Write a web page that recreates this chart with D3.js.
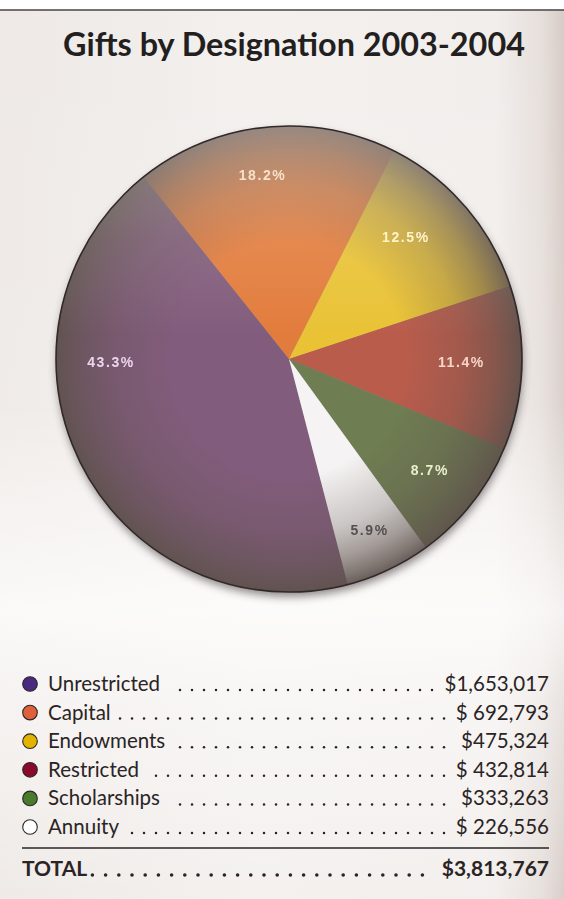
<!DOCTYPE html>
<html>
<head>
<meta charset="utf-8">
<script src="https://cdn.jsdelivr.net/npm/d3@7"></script>
<style>
  html, body { margin: 0; padding: 0; background: #ffffff; }
  svg { display: block; }
</style>
</head>
<body>
<script>
// ---------------- DATA ----------------
const categories = ["Unrestricted", "Capital", "Endowments", "Restricted", "Scholarships", "Annuity"];
const amounts = [1653017, 692793, 475324, 432814, 333263, 226556];
const amountLabels = ["$1,653,017", "$ 692,793", "$475,324", "$ 432,814", "$333,263", "$ 226,556"];
const percentLabels = ["43.3%", "18.2%", "12.5%", "11.4%", "8.7%", "5.9%"];
const totalLabel = "TOTAL";
const totalAmountLabel = "$3,813,767";
const titleText = "Gifts by Designation 2003-2004";

// ---------------- STYLE / LAYOUT ----------------
const W = 564, H = 899;
const sliceColors = ["#825c7c", "#e27c3c", "#e9c235", "#ba5c4c", "#6f7e52", "#f5f3f3"];
const legendColors = ["#4a2a80", "#e0603c", "#e2b400", "#8a0a2c", "#4a7a2c", "#ffffff"];
const labelColors = ["#ecd6ee", "#f6e2c8", "#fff3c8", "#f6d6c8", "#e9f0cc", "#555050"];
const labelAngleShift = [25.7, -2.3, -5.5, -1, 0, 0];   // degrees
const labelRadiusFactor = [0.764, 0.80, 0.725, 0.74, 0.77, 0.81];
const cx = 289, cy = 359, R = 233;
const startDeg = 165.4;

const svg = d3.select("body").append("svg")
  .attr("width", W).attr("height", H);
const defs = svg.append("defs");

// background gradients
const bgH = defs.append("linearGradient").attr("id", "bgH").attr("x1", 0).attr("x2", 1).attr("y1", 0).attr("y2", 0);
[[0, "#eee9e6"], [0.45, "#f3f0ee"], [0.88, "#f2eeec"], [0.96, "#e6dfdb"], [1, "#d6ccc7"]]
  .forEach(([o, c]) => bgH.append("stop").attr("offset", o).attr("stop-color", c));
const bgV = defs.append("linearGradient").attr("id", "bgV").attr("x1", 0).attr("x2", 0).attr("y1", 0).attr("y2", 1);
[[0, 0], [0.45, 0.1], [0.68, 0.75], [0.78, 0.45], [1, 0.05]]
  .forEach(([o, a]) => bgV.append("stop").attr("offset", o).attr("stop-color", "#ffffff").attr("stop-opacity", a));

svg.append("rect").attr("x", 0).attr("y", 0).attr("width", W).attr("height", H).attr("fill", "url(#bgH)");
svg.append("rect").attr("x", 0).attr("y", 0).attr("width", W).attr("height", H).attr("fill", "url(#bgV)");
svg.append("rect").attr("x", 0).attr("y", 0).attr("width", W).attr("height", 9.5).attr("fill", "#ffffff");
svg.append("line").attr("x1", 0).attr("x2", W).attr("y1", 10).attr("y2", 10)
  .attr("stroke", "#4a4646").attr("stroke-width", 1.6);

// title
const title = svg.append("text")
  .attr("x", 294).attr("y", 56)
  .attr("text-anchor", "middle")
  .attr("font-family", "Lato, 'Open Sans', sans-serif")
  .attr("font-weight", 700)
  .attr("font-size", 25)
  .attr("fill", "#231f1f")
  .text(titleText);
{
  const target = 462;
  const w = title.node().getComputedTextLength();
  title.attr("font-size", 25 * target / w);
}

// ---------------- PIE ----------------
const a0 = startDeg * Math.PI / 180;
const pie = d3.pie().sort(null).value(d => d).startAngle(a0).endAngle(a0 + 2 * Math.PI);
const arcs = pie(amounts);
const arc = d3.arc().innerRadius(0).outerRadius(R);

// shadow
const shadowF = defs.append("filter").attr("id", "shadow").attr("x", "-20%").attr("y", "-20%").attr("width", "140%").attr("height", "140%");
shadowF.append("feGaussianBlur").attr("stdDeviation", 4);
svg.append("circle").attr("cx", cx + 1).attr("cy", cy + 5).attr("r", R)
  .attr("fill", "#3a3333").attr("opacity", 0.55).attr("filter", "url(#shadow)");

const g = svg.append("g").attr("transform", `translate(${cx},${cy})`);
g.selectAll("path.slice").data(arcs).join("path")
  .attr("class", "slice")
  .attr("d", arc)
  .attr("fill", (d, i) => sliceColors[i]);

// sphere-like rim shading
const rg = defs.append("radialGradient").attr("id", "rim").attr("cx", "50%").attr("cy", "50%").attr("r", "50%");
[[0, 0], [0.5, 0], [0.75, 0.28], [0.88, 0.55], [0.96, 0.78], [1, 0.92]]
  .forEach(([o, a]) => rg.append("stop").attr("offset", o).attr("stop-color", "#5e524c").attr("stop-opacity", a));
g.append("circle").attr("r", R).attr("fill", "url(#rim)");

const hi = defs.append("linearGradient").attr("id", "hi").attr("x1", 0).attr("x2", 0).attr("y1", 0).attr("y2", 1);
[[0, 0.3], [0.25, 0.1], [0.45, 0]]
  .forEach(([o, a]) => hi.append("stop").attr("offset", o).attr("stop-color", "#ffffff").attr("stop-opacity", a));
g.append("circle").attr("r", R).attr("fill", "url(#hi)");

g.append("circle").attr("r", R).attr("fill", "none").attr("stroke", "#302a2a").attr("stroke-width", 1.6);

// percent labels
const blurF = defs.append("filter").attr("id", "soft");
blurF.append("feGaussianBlur").attr("stdDeviation", 0.55);
g.selectAll("text.pct").data(arcs).join("text")
  .attr("class", "pct")
  .attr("transform", (d, i) => {
    const a = (d.startAngle + d.endAngle) / 2 + labelAngleShift[i] * Math.PI / 180;
    const r = R * labelRadiusFactor[i];
    return `translate(${r * Math.sin(a)},${-r * Math.cos(a)})`;
  })
  .attr("text-anchor", "middle")
  .attr("dy", "0.36em")
  .attr("font-family", "'Liberation Sans', Arial, sans-serif")
  .attr("font-weight", 700)
  .attr("font-size", 14)
  .attr("letter-spacing", 1.6)
  .attr("fill", (d, i) => labelColors[i])
  .attr("filter", "url(#soft)")
  .text((d, i) => percentLabels[i]);

// ---------------- LEGEND ----------------
const rowY = d3.scalePoint().domain(categories).range([684, 827]);
const leftX = 22, rightX = 549, labelX = 48, dotX = 30;
const font = "Lato, 'Open Sans', sans-serif";
const textColor = "#2a2424";

const rows = svg.append("g").selectAll("g.row").data(categories).join("g").attr("class", "row")
  .attr("transform", d => `translate(0,${rowY(d)})`);

rows.append("circle").attr("cx", dotX).attr("cy", 0).attr("r", 7.3)
  .attr("fill", (d, i) => legendColors[i]).attr("stroke", "#2c2626").attr("stroke-width", 1.1);

rows.append("text").attr("class", "lab").attr("x", labelX).attr("y", 7)
  .attr("font-family", font).attr("font-size", 20.5).attr("fill", textColor)
  .text(d => d);

rows.append("text").attr("class", "val").attr("x", rightX).attr("y", 7)
  .attr("text-anchor", "end")
  .attr("font-family", font).attr("font-size", 20.5).attr("fill", textColor)
  .attr("xml:space", "preserve").style("white-space", "pre")
  .text((d, i) => amountLabels[i]);

function leaders(sel, startX, endX, pitch, r, color) {
  const first = Math.ceil(startX / pitch) * pitch;
  const xs = d3.range(first, endX, pitch);
  sel.selectAll("circle.ld").data(xs).join("circle").attr("class", "ld")
    .attr("cx", x => x).attr("cy", 0).attr("r", r).attr("fill", color);
}

rows.each(function () {
  const row = d3.select(this);
  const lb = row.select("text.lab").node().getBBox();
  const vb = row.select("text.val").node().getBBox();
  const lg = row.append("g").attr("transform", "translate(0,6)");
  leaders(lg, lb.x + lb.width + 8, vb.x - 7, 12, 1.25, textColor);
});

// rule + total
svg.append("line").attr("x1", leftX).attr("x2", rightX).attr("y1", 848).attr("y2", 848)
  .attr("stroke", "#2a2424").attr("stroke-width", 1.5);

const tot = svg.append("g").attr("transform", "translate(0,868)");
const tl = tot.append("text").attr("x", leftX).attr("y", 8)
  .attr("font-family", font).attr("font-weight", 700).attr("font-size", 21).attr("fill", textColor)
  .text(totalLabel);
const tv = tot.append("text").attr("x", rightX).attr("y", 8).attr("text-anchor", "end")
  .attr("font-family", font).attr("font-weight", 700).attr("font-size", 21).attr("fill", textColor)
  .text(totalAmountLabel);
{
  const lb = tl.node().getBBox(), vb = tv.node().getBBox();
  const lg = tot.append("g").attr("transform", "translate(0,7)");
  leaders(lg, lb.x + lb.width + 4, vb.x - 8, 13.2, 1.8, textColor);
}
</script>
</body>
</html>
